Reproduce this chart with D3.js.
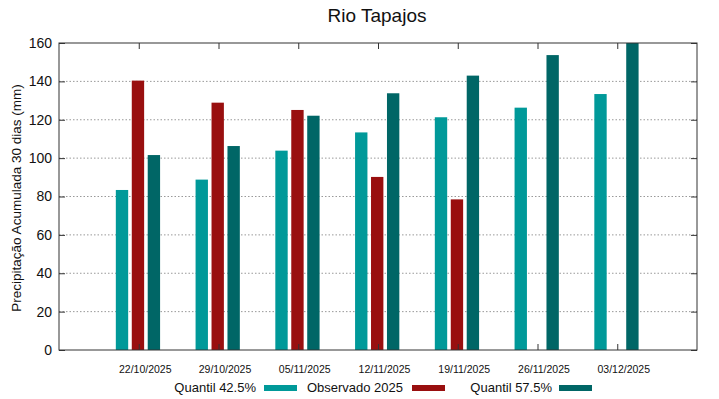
<!DOCTYPE html>
<html>
<head>
<meta charset="utf-8">
<script src="https://cdn.jsdelivr.net/npm/d3@7"></script>
<style>
  body { margin: 0; background: #fff; }
  text { font-family: "Liberation Sans", Arial, sans-serif; fill: #111; }
</style>
</head>
<body>
<div id="chart"></div>
<script>
const dates = ['22/10/2025', '29/10/2025', '05/11/2025', '12/11/2025', '19/11/2025', '26/11/2025', '03/12/2025'];
const q425 = [83.4, 88.8, 103.9, 113.4, 121.3, 126.3, 133.4];
const observado = [140.4, 128.9, 125.1, 90.2, 78.5, null, null];
const q575 = [101.6, 106.3, 122.1, 133.8, 143.0, 153.7, 160];
const yTicks = [0, 20, 40, 60, 80, 100, 120, 140, 160];

const series = [
  {name: 'Quantil 42.5%', values: q425, color: '#009999'},
  {name: 'Observado 2025', values: observado, color: '#990f0f'},
  {name: 'Quantil 57.5%', values: q575, color: '#006666'}
];

const W = 719, H = 399;
const margin = {top: 43, right: 22, bottom: 49, left: 59};
const width = W - margin.left - margin.right;
const height = H - margin.top - margin.bottom;

const svg = d3.select('#chart').append('svg')
  .attr('width', W).attr('height', H);

const g = svg.append('g')
  .attr('transform', `translate(${margin.left},${margin.top})`);

const x = d3.scaleLinear().domain([-1, dates.length]).range([0, width]);
const y = d3.scaleLinear().domain([0, 160]).range([height, 0]);

// grid
g.selectAll('.grid').data(yTicks.slice(1, -1)).enter().append('line')
  .attr('x1', 0).attr('x2', width)
  .attr('y1', d => y(d)).attr('y2', d => y(d))
  .attr('stroke', '#999').attr('stroke-dasharray', '1.5,2').attr('stroke-width', 1);

// bars
const barW = x(0.155) - x(0);
series.forEach((s, j) => {
  g.selectAll('.bar' + j)
    .data(s.values.map((v, i) => ({i, v})).filter(d => d.v != null))
    .enter().append('rect')
    .attr('x', d => x(d.i - 0.01 + (j - 1) * 0.2) - barW / 2)
    .attr('y', d => y(d.v))
    .attr('width', barW)
    .attr('height', d => y(0) - y(d.v))
    .attr('fill', s.color);
});

// axes
const yAxis = g.append('g').call(d3.axisLeft(y).tickValues(yTicks).tickSize(-6).tickPadding(7));
yAxis.select('.domain').remove();
yAxis.selectAll('text').style('font-size', '14px');
const yAxisR = g.append('g').attr('transform', `translate(${width},0)`)
  .call(d3.axisRight(y).tickValues(yTicks).tickSize(-6).tickFormat(''));
yAxisR.select('.domain').remove();

const xAxis = g.append('g').attr('transform', `translate(0,${height})`)
  .call(d3.axisBottom(x).tickValues(d3.range(dates.length)).tickSize(-6).tickPadding(16)
    .tickFormat(i => dates[i]));
xAxis.select('.domain').remove();
xAxis.selectAll('text').style('font-size', '10.5px').attr('dx', 6);
const xAxisT = g.append('g')
  .call(d3.axisTop(x).tickValues(d3.range(dates.length)).tickSize(-6).tickFormat(''));
xAxisT.select('.domain').remove();

g.selectAll('.tick line').attr('stroke', '#333');

g.append('rect').attr('width', width).attr('height', height)
  .attr('fill', 'none').attr('stroke', '#333').attr('stroke-width', 1);

// title
svg.append('text').attr('x', 377).attr('y', 22).attr('text-anchor', 'middle')
  .style('font-size', '19px').text('Rio Tapajos');

// y label
svg.append('text').attr('transform', 'translate(21,198) rotate(-90)')
  .attr('text-anchor', 'middle').style('font-size', '13.5px')
  .text('Precipitação Acumulada 30 dias (mm)');

// legend
const legendPos = [{tx: 256, sx: 264}, {tx: 403, sx: 412}, {tx: 552, sx: 559}];
series.forEach((s, j) => {
  svg.append('text').attr('x', legendPos[j].tx).attr('y', 392)
    .attr('text-anchor', 'end').style('font-size', '13px').text(s.name);
  svg.append('rect').attr('x', legendPos[j].sx).attr('y', 385)
    .attr('width', 33).attr('height', 6).attr('fill', s.color);
});
</script>
</body>
</html>
